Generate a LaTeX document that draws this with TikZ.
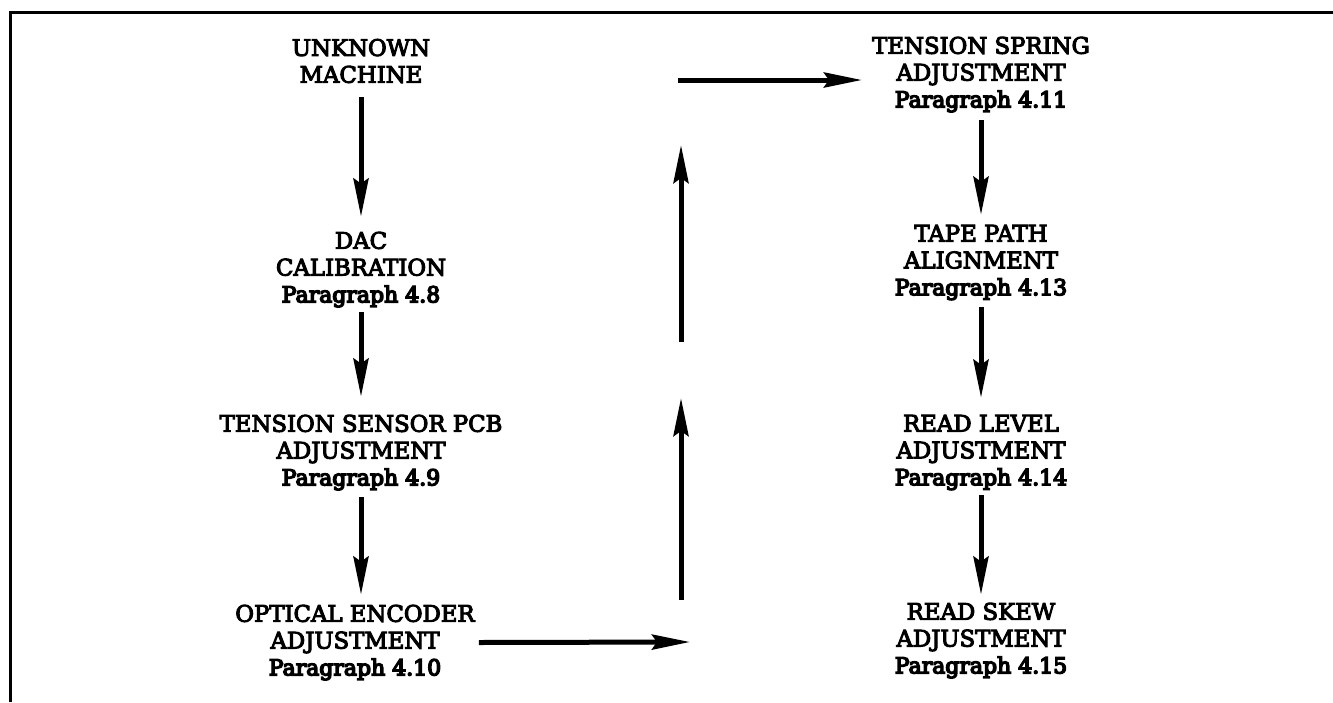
\documentclass[tikz,border=0pt]{standalone}
\usepackage{fontspec}
\setmainfont{DejaVu Serif}
\newfontfamily\capfont[FakeBold=4.5]{DejaVu Serif}
\newfontfamily\parfont[FakeBold=6.5]{DejaVu Serif}
\usetikzlibrary{arrows.meta}
\newcommand\parline[1]{{\parfont\fontsize{22}{26.8}\selectfont #1}}
\begin{document}
\begin{tikzpicture}[x=1pt,y=-1pt,
  stage/.style={align=center,inner sep=0pt,font=\capfont\fontsize{22.8}{26.8}\selectfont},
  arr/.style={line width=5pt,-{Stealth[length=38pt,width=15pt,inset=5pt]}},
  frame/.style={line width=3pt}]
\useasboundingbox (0,0) rectangle (1333,702);
\fill[white] (0,0) rectangle (1333,702);
\draw[frame] (10,702) -- (10,12) -- (1333,12);
% left column
\node[stage] (unk) at (361,61) {UNKNOWN\\MACHINE};
\node[stage] (dac) at (361,269.5) {DAC\\CALIBRATION\\\parline{Paragraph 4.8}};
\node[stage] (tsp) at (361,452.5) {TENSION SENSOR PCB\\ADJUSTMENT\\\parline{Paragraph 4.9}};
\node[stage] (opt) at (355,642.5) {OPTICAL ENCODER\\ADJUSTMENT\\\parline{Paragraph 4.10}};
% right column
\node[stage] (tsa) at (981,74.5) {TENSION SPRING\\ADJUSTMENT\\\parline{Paragraph 4.11}};
\node[stage] (tpa) at (981,262.5) {TAPE PATH\\ALIGNMENT\\\parline{Paragraph 4.13}};
\node[stage] (rla) at (981,452.5) {READ LEVEL\\ADJUSTMENT\\\parline{Paragraph 4.14}};
\node[stage] (rsa) at (981,640.5) {READ SKEW\\ADJUSTMENT\\\parline{Paragraph 4.15}};
% vertical arrows
\draw[arr] ([yshift=-14pt]unk.south) -- ([yshift=15pt]dac.north);
\draw[arr] ([yshift=-5pt]dac.south) -- ([yshift=18pt]tsp.north);
\draw[arr] ([yshift=-7pt]tsp.south) -- ([yshift=10pt]opt.north -| tsp.south);
\draw[arr] ([yshift=-8pt]tsa.south) -- ([yshift=10pt]tpa.north);
\draw[arr] ([yshift=-7pt]tpa.south) -- ([yshift=17pt]rla.north);
\draw[arr] ([yshift=-5pt]rla.south) -- ([yshift=8pt]rsa.north);
% return path
\coordinate (g1) at (690,642);
\coordinate (u1s) at (681,600);
\coordinate (u1e) at (681,398);
\coordinate (u2s) at (681,342);
\coordinate (u2e) at (681,145);
\coordinate (t1) at (678,80);
\draw[arr] ([xshift=4pt]opt.east) -- (g1);
\draw[arr] (u1s) -- (u1e);
\draw[arr] (u2s) -- (u2e);
\draw[arr] (t1) -- ([xshift=-10pt]tsa.west |- t1);
\end{tikzpicture}
\end{document}
